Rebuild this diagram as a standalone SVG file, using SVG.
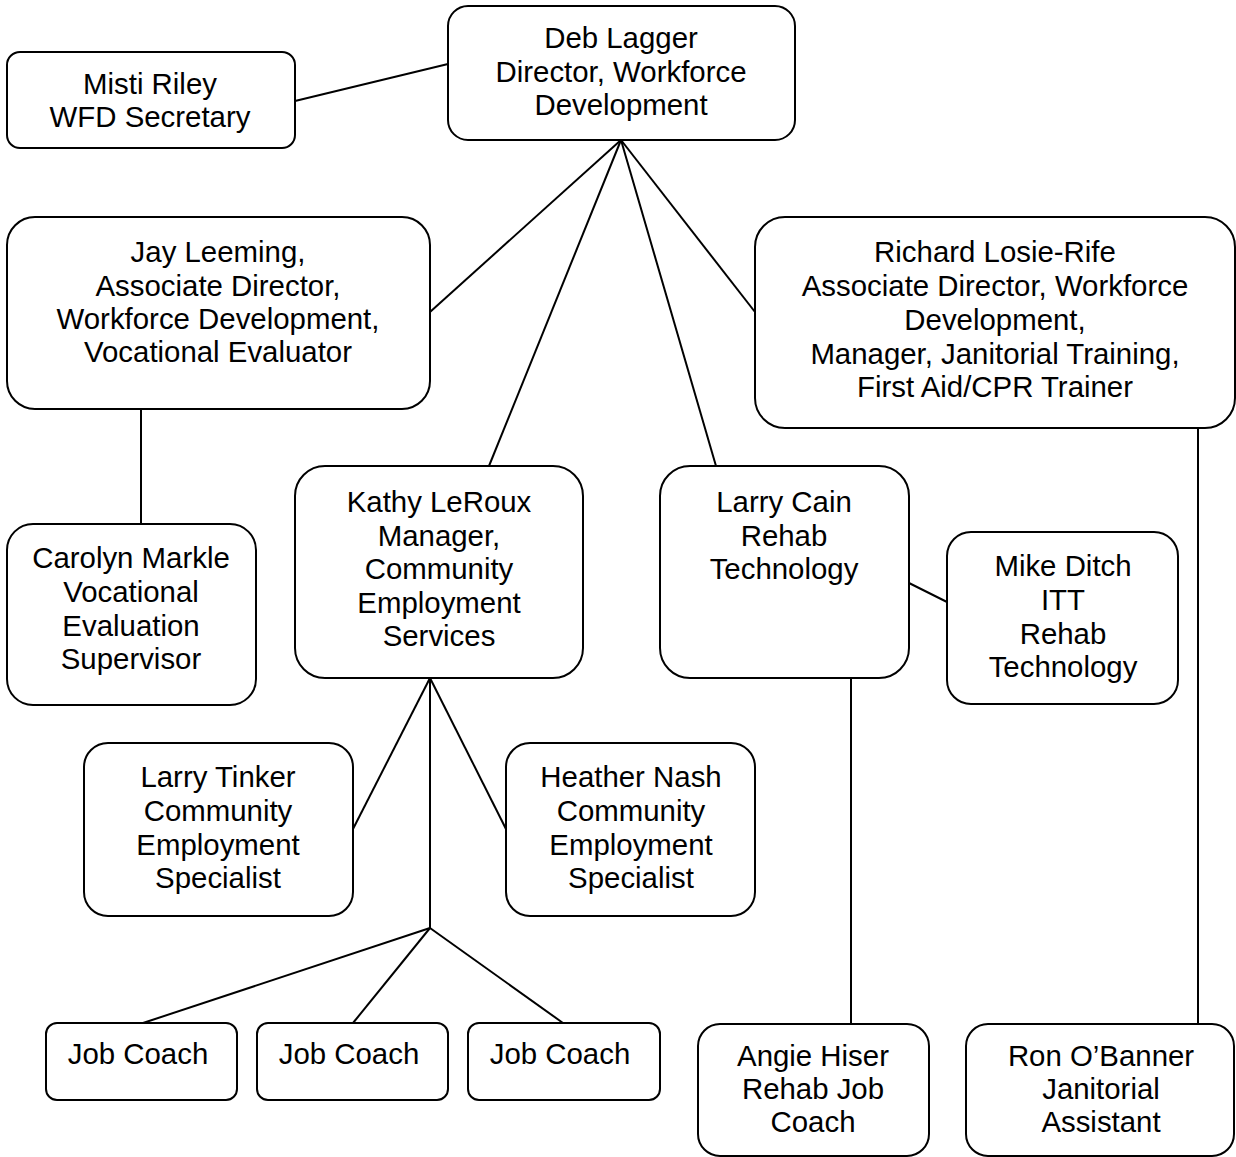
<svg xmlns="http://www.w3.org/2000/svg" width="1236" height="1157" viewBox="0 0 1236 1157">
<style>
.box{fill:#fff;stroke:#000;stroke-width:2}
.ln{stroke:#000;stroke-width:2;fill:none}
text{font-family:"Liberation Sans",Arial,sans-serif;font-size:29.4px;fill:#000;text-anchor:middle}
</style>
<rect width="1236" height="1157" fill="#fff"/>
<g id="connectors">
<line class="ln" x1="295" y1="101" x2="448" y2="64"/>
<line class="ln" x1="621" y1="140" x2="430" y2="312"/>
<line class="ln" x1="621" y1="140" x2="489" y2="466"/>
<line class="ln" x1="621" y1="140" x2="716" y2="466"/>
<line class="ln" x1="621" y1="140" x2="755" y2="312"/>
<line class="ln" x1="141" y1="409" x2="141" y2="524"/>
<line class="ln" x1="909" y1="583" x2="947" y2="602"/>
<line class="ln" x1="851" y1="678" x2="851" y2="1023"/>
<line class="ln" x1="1198" y1="428" x2="1198" y2="1023"/>
<line class="ln" x1="430" y1="678" x2="353" y2="829"/>
<line class="ln" x1="430" y1="678" x2="506" y2="829"/>
<line class="ln" x1="430" y1="678" x2="430" y2="928"/>
<line class="ln" x1="430" y1="928" x2="143" y2="1023"/>
<line class="ln" x1="430" y1="928" x2="353" y2="1023"/>
<line class="ln" x1="430" y1="928" x2="563" y2="1023"/>
</g>
<g id="misti"><rect class="box" x="7" y="52" width="288" height="96" rx="13"/>
<text x="150" y="94">Misti Riley</text><text x="150" y="127">WFD Secretary</text></g>
<g id="deb"><rect class="box" x="448" y="6" width="347" height="134" rx="20"/>
<text x="621" y="48">Deb Lagger</text><text x="621" y="82">Director, Workforce</text><text x="621" y="115">Development</text></g>
<g id="jay"><rect class="box" x="7" y="217" width="423" height="192" rx="28"/>
<text x="218" y="262">Jay Leeming,</text><text x="218" y="296">Associate Director,</text><text x="218" y="329">Workforce Development,</text><text x="218" y="362">Vocational Evaluator</text></g>
<g id="richard"><rect class="box" x="755" y="217" width="480" height="211" rx="30"/>
<text x="995" y="262">Richard Losie-Rife</text><text x="995" y="296">Associate Director, Workforce</text><text x="995" y="330">Development,</text><text x="995" y="364">Manager, Janitorial Training,</text><text x="995" y="397">First Aid/CPR Trainer</text></g>
<g id="carolyn"><rect class="box" x="7" y="524" width="249" height="181" rx="26"/>
<text x="131" y="568">Carolyn Markle</text><text x="131" y="602">Vocational</text><text x="131" y="636">Evaluation</text><text x="131" y="669">Supervisor</text></g>
<g id="kathy"><rect class="box" x="295" y="466" width="288" height="212" rx="30"/>
<text x="439" y="512">Kathy LeRoux</text><text x="439" y="546">Manager,</text><text x="439" y="579">Community</text><text x="439" y="613">Employment</text><text x="439" y="646">Services</text></g>
<g id="larrycain"><rect class="box" x="660" y="466" width="249" height="212" rx="30"/>
<text x="784" y="512">Larry Cain</text><text x="784" y="546">Rehab</text><text x="784" y="579">Technology</text></g>
<g id="mike"><rect class="box" x="947" y="532" width="231" height="172" rx="24"/>
<text x="1063" y="576">Mike Ditch</text><text x="1063" y="610">ITT</text><text x="1063" y="644">Rehab</text><text x="1063" y="677">Technology</text></g>
<g id="tinker"><rect class="box" x="84" y="743" width="269" height="173" rx="24"/>
<text x="218" y="787">Larry Tinker</text><text x="218" y="821">Community</text><text x="218" y="855">Employment</text><text x="218" y="888">Specialist</text></g>
<g id="heather"><rect class="box" x="506" y="743" width="249" height="173" rx="24"/>
<text x="631" y="787">Heather Nash</text><text x="631" y="821">Community</text><text x="631" y="855">Employment</text><text x="631" y="888">Specialist</text></g>
<g id="jc1"><rect class="box" x="46" y="1023" width="191" height="77" rx="11"/><text x="138" y="1064">Job Coach</text></g>
<g id="jc2"><rect class="box" x="257" y="1023" width="191" height="77" rx="11"/><text x="349" y="1064">Job Coach</text></g>
<g id="jc3"><rect class="box" x="468" y="1023" width="192" height="77" rx="11"/><text x="560" y="1064">Job Coach</text></g>
<g id="angie"><rect class="box" x="698" y="1024" width="231" height="132" rx="22"/>
<text x="813" y="1066">Angie Hiser</text><text x="813" y="1099">Rehab Job</text><text x="813" y="1132">Coach</text></g>
<g id="ron"><rect class="box" x="966" y="1024" width="268" height="132" rx="22"/>
<text x="1101" y="1066">Ron O’Banner</text><text x="1101" y="1099">Janitorial</text><text x="1101" y="1132">Assistant</text></g>
</svg>
